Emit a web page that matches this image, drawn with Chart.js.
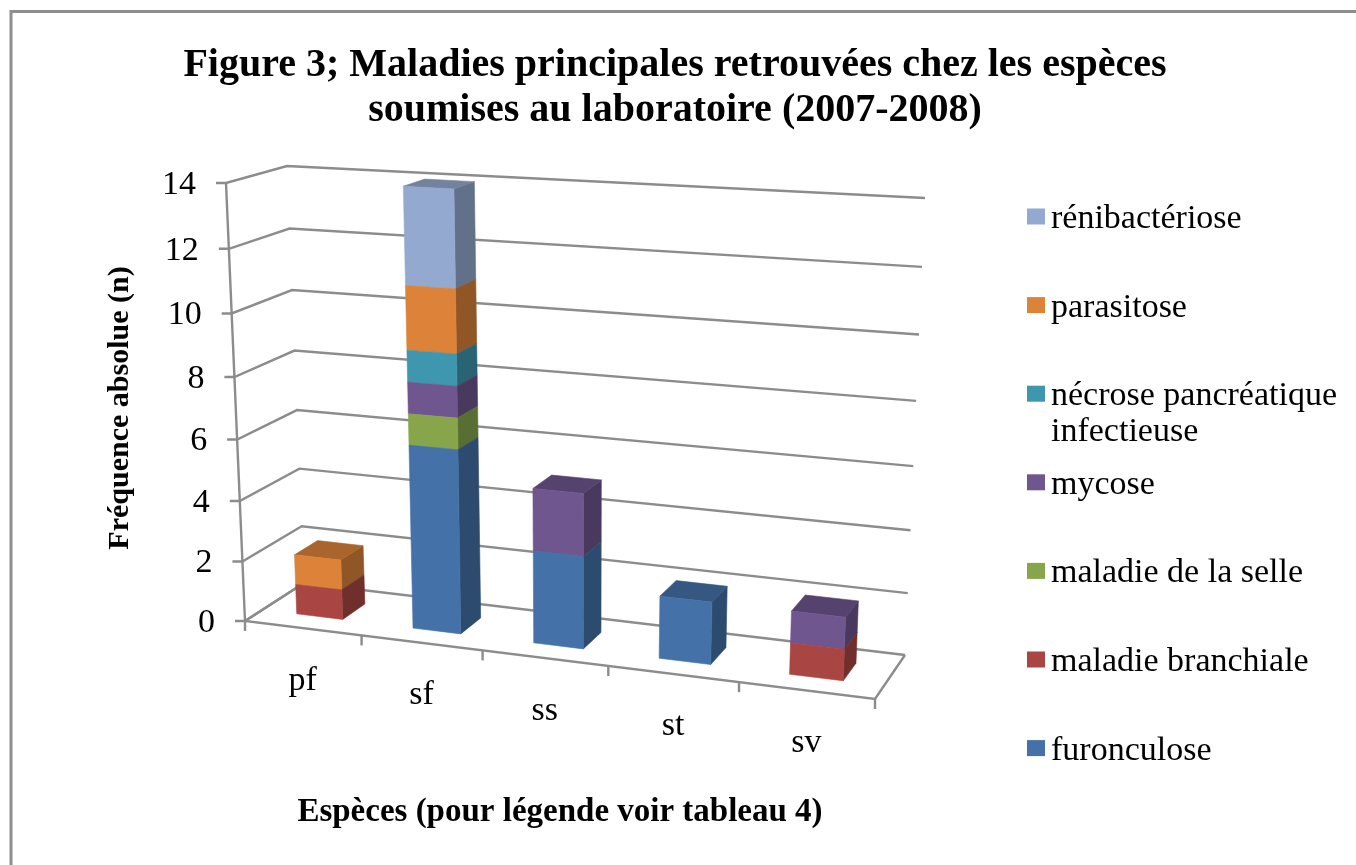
<!DOCTYPE html>
<html lang="fr">
<head>
<meta charset="utf-8">
<title>Figure 3</title>
<script src="https://cdn.jsdelivr.net/npm/chart.js@4"></script>
<style>
html,body{margin:0;padding:0;background:#fff;overflow:hidden}
canvas{display:block;filter:blur(0.6px)}
</style>
</head>
<body>
<canvas id="c" width="1356" height="865"></canvas>
<script>
const categories = ['pf', 'sf', 'ss', 'st', 'sv'];
const furonculose = [0, 6, 3, 2, 0];
const maladieBranchiale = [1, 0, 0, 0, 1];
const maladieSelle = [0, 1, 0, 0, 0];
const mycose = [0, 1, 2, 0, 1];
const necrose = [0, 1, 0, 0, 0];
const parasitose = [1, 2, 0, 0, 0];
const renibacteriose = [0, 3, 0, 0, 0];
const seriesNames = ['furonculose', 'maladie branchiale', 'maladie de la selle', 'mycose',
  'nécrose pancréatique infectieuse', 'parasitose', 'rénibactériose'];
const seriesValues = [furonculose, maladieBranchiale, maladieSelle, mycose, necrose, parasitose, renibacteriose];
const frontColors = ['#4472A8', '#A94542', '#87A64B', '#70568F', '#3F97AF', '#DC8339', '#94A9CF'];
const titleLines = ['Figure 3; Maladies principales retrouvées chez les espèces',
  'soumises au laboratoire (2007-2008)'];
const yTitle = 'Fréquence absolue (n)';
const xTitle = 'Espèces (pour légende voir tableau 4)';

const SERIF = '"Liberation Serif", "Times New Roman", serif';
const GRID = '#8C8C8C';

// Perspective of the 3-D box: a plane-to-screen mapping for the front and back planes
function homography(q) {
  const [[x0,y0],[x1,y1],[x2,y2],[x3,y3]] = q;
  const dx3 = x0-x1+x2-x3, dy3 = y0-y1+y2-y3, dx1 = x1-x2, dx2 = x3-x2, dy1 = y1-y2, dy2 = y3-y2;
  const den = dx1*dy2-dx2*dy1;
  const g = (dx3*dy2-dx2*dy3)/den, h = (dx1*dy3-dx3*dy1)/den;
  const a = x1-x0+g*x1, b = x3-x0+h*x3, d = y1-y0+g*y1, e = y3-y0+h*y3;
  return (u,v) => { const k = g*u+h*v+1; return [(a*u+b*v+x0)/k, (d*u+e*v+y0)/k]; };
}
const frontPlane = homography([[245,621],[875,699],[896,219],[226,183]]);
const backPlane = homography([[304,583],[905,655],[925,198],[287,166]]);
function P(u,v,w) {
  const f = frontPlane(u,v), b = backPlane(u,v);
  return [f[0]+(b[0]-f[0])*w, f[1]+(b[1]-f[1])*w];
}
const BAR_NEAR = 0.3, BAR_FAR = 0.7;

function shade(hex, k) {
  const n = parseInt(hex.slice(1),16);
  return `rgb(${Math.round((n>>16&255)*k)},${Math.round((n>>8&255)*k)},${Math.round((n&255)*k)})`;
}
function poly(ctx, pts, fill) {
  ctx.beginPath();
  pts.forEach((p,i) => i ? ctx.lineTo(p[0],p[1]) : ctx.moveTo(p[0],p[1]));
  ctx.closePath();
  ctx.fillStyle = fill;
  ctx.fill();
  ctx.strokeStyle = fill;
  ctx.lineWidth = 0.6;
  ctx.stroke();
}
function line(ctx, pts) {
  ctx.beginPath();
  pts.forEach((p,i) => i ? ctx.lineTo(p[0],p[1]) : ctx.moveTo(p[0],p[1]));
  ctx.stroke();
}

function draw3d(chart, ds, idx) {
  return function(ctx) {
    const value = seriesValues[ds][idx];
    if (!value) return;
    const xs = chart.scales.x, ys = chart.scales.y;
    const toU = x => (x-xs.left)/(xs.right-xs.left);
    const toV = y => (ys.bottom-y)/(ys.bottom-ys.top);
    const u0 = toU(this.x-this.width/2), u1 = toU(this.x+this.width/2);
    const v0 = toV(this.base), v1 = toV(this.y);
    const col = frontColors[ds];
    ctx.save();
    poly(ctx, [P(u1,v0,BAR_NEAR),P(u1,v0,BAR_FAR),P(u1,v1,BAR_FAR),P(u1,v1,BAR_NEAR)], shade(col,0.66));
    let isTop = true;
    for (let s = ds+1; s < seriesValues.length; s++) if (seriesValues[s][idx]) isTop = false;
    if (isTop) poly(ctx, [P(u0,v1,BAR_NEAR),P(u1,v1,BAR_NEAR),P(u1,v1,BAR_FAR),P(u0,v1,BAR_FAR)], shade(col,0.77));
    poly(ctx, [P(u0,v0,BAR_NEAR),P(u1,v0,BAR_NEAR),P(u1,v1,BAR_NEAR),P(u0,v1,BAR_NEAR)], col);
    ctx.restore();
  };
}

const box3d = {
  id: 'box3d',
  afterLayout(chart) {
    // the title spans the whole page, not only the plot's side of it
    const t = chart.titleBlock;
    t.left = 0; t.right = 1350; t.width = 1350;
  },
  afterDatasetsUpdate(chart) {
    chart.data.datasets.forEach((d,ds) => {
      chart.getDatasetMeta(ds).data.forEach((el,idx) => { el.draw = draw3d(chart,ds,idx); });
    });
  },
  beforeDatasetsDraw(chart) {
    const ctx = chart.ctx, ys = chart.scales.y;
    ctx.save();
    // outer frame
    ctx.strokeStyle = '#8E8E8E'; ctx.lineWidth = 3;
    line(ctx, [[11,865],[11,11.5],[1356,11.5]]);
    // walls
    ctx.strokeStyle = GRID; ctx.lineWidth = 2.4;
    ys.ticks.forEach(t => {
      const v = t.value/ys.max;
      const a = P(0,v,0);
      line(ctx, [[a[0]-10,a[1]], a, P(0,v,1), P(1,v,1)]);
    });
    line(ctx, [P(0,0,0), P(0,1,0)]);
    line(ctx, [P(0,0,1), P(0,0,0), P(1,0,0), P(1,0,1)]);
    categories.concat('').forEach((c,i) => {
      const a = P(i/categories.length,0,0);
      line(ctx, [a,[a[0],a[1]+10]]);
    });
    // axis labels
    ctx.fillStyle = '#000';
    ctx.font = '34px '+SERIF;
    ctx.textBaseline = 'middle';
    ctx.textAlign = 'right';
    ys.ticks.forEach(t => {
      const a = P(0,t.value/ys.max,0);
      ctx.fillText(String(t.value), a[0]-30, a[1]+2);
    });
    ctx.textAlign = 'center';
    categories.forEach((c,i) => {
      const a = P((i+0.5)/categories.length,0,0);
      ctx.fillText(c, a[0], a[1]+52.5);
    });
    // legend
    ctx.textAlign = 'left';
    const maxW = 290;
    for (let i = 0; i < seriesNames.length; i++) {
      const s = seriesNames.length-1-i, y = 216.5+i*88.6;
      ctx.fillStyle = frontColors[s];
      ctx.fillRect(1027,y-8,18,16);
      ctx.fillStyle = '#000';
      let lines = [], cur = '';
      seriesNames[s].split(' ').forEach(word => {
        const t = cur ? cur+' '+word : word;
        if (ctx.measureText(t).width > maxW && cur) { lines.push(cur); cur = word; } else cur = t;
      });
      lines.push(cur);
      lines.forEach((l,k) => ctx.fillText(l,1051,y+2.5+k*36));
    }
    ctx.restore();
  }
};

new Chart(document.getElementById('c'), {
  type: 'bar',
  data: {
    labels: categories,
    datasets: seriesNames.map((name,i) => ({
      label: name, data: seriesValues[i], backgroundColor: frontColors[i],
      barPercentage: 0.4, categoryPercentage: 1, stack: 's', clip: false
    }))
  },
  options: {
    responsive: false,
    animation: false,
    layout: {padding: {left: 98, right: 481, top: 0, bottom: 29}},
    plugins: {
      legend: {display: false},
      tooltip: {enabled: false},
      title: {
        display: true, text: titleLines, color: '#000',
        font: {family: SERIF, size: 40, weight: 'bold', lineHeight: 1.125},
        padding: {top: 43, bottom: 62}
      }
    },
    scales: {
      x: {
        stacked: true, offset: true,
        grid: {display: false}, border: {display: false}, ticks: {display: false},
        title: {display: true, text: xTitle, color: '#000', font: {family: SERIF, size: 33, weight: 'bold'}},
        afterFit(s) { s.height = 215; }
      },
      y: {
        stacked: true, min: 0, max: 14,
        grid: {display: false}, border: {display: false},
        ticks: {display: false, stepSize: 2},
        title: {display: true, text: yTitle, color: '#000', font: {family: SERIF, size: 30, weight: 'bold'}},
        afterFit(s) { s.width = 147; }
      }
    }
  },
  plugins: [box3d]
});
</script>
</body>
</html>
